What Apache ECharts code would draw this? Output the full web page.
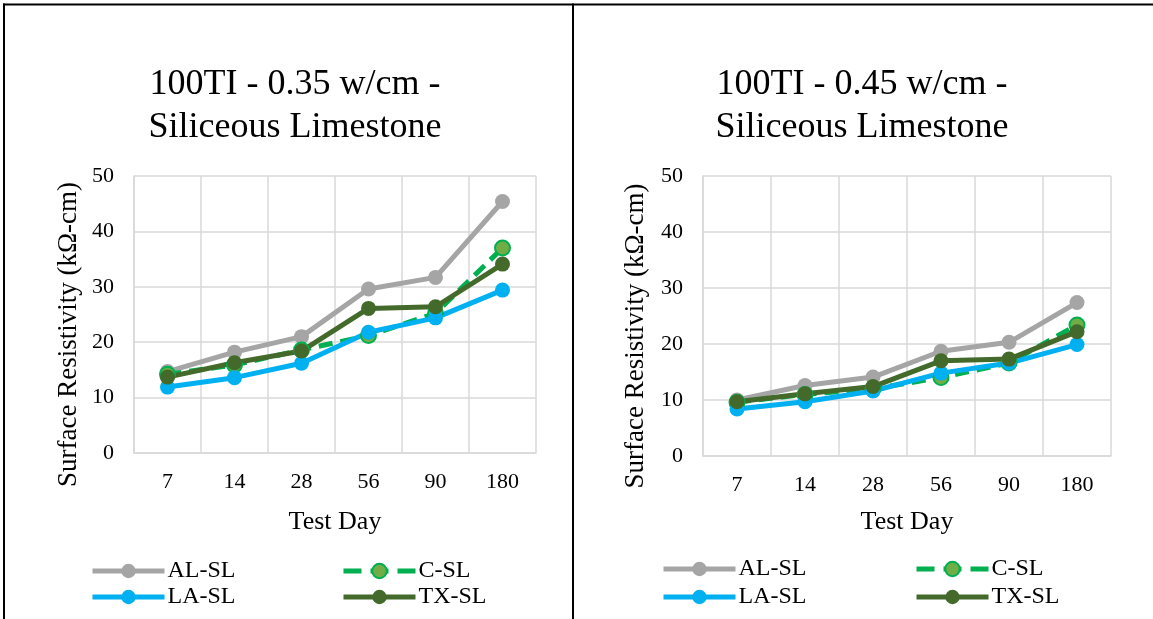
<!DOCTYPE html>
<html>
<head>
<meta charset="utf-8">
<script src="https://cdn.jsdelivr.net/npm/echarts@6/dist/echarts.min.js"></script>
<style>
html,body{margin:0;padding:0;background:#fff;}
#c{width:1153px;height:619px;}
</style>
</head>
<body>
<div id="c"></div>
<script>
var days = ['7', '14', '28', '56', '90', '180'];
var yTicks = [0, 10, 20, 30, 40, 50];
var seriesNames = ['AL-SL', 'C-SL', 'LA-SL', 'TX-SL'];
// 100TI - 0.35 w/cm
var AL35 = [14.7, 18.2, 21.0, 29.6, 31.7, 45.4];
var C35  = [14.2, 15.9, 18.6, 21.2, 25.2, 37.0];
var LA35 = [11.9, 13.6, 16.2, 21.8, 24.4, 29.4];
var TX35 = [13.7, 16.3, 18.4, 26.1, 26.4, 34.1];
// 100TI - 0.45 w/cm
var AL45 = [10.0, 12.6, 14.1, 18.7, 20.3, 27.4];
var C45  = [9.6, 11.0, 12.0, 14.0, 16.6, 23.4];
var LA45 = [8.4, 9.7, 11.6, 14.8, 16.6, 19.9];
var TX45 = [9.7, 11.1, 12.4, 17.0, 17.3, 22.2];
var titles = ['100TI - 0.35 w/cm -\nSiliceous Limestone', '100TI - 0.45 w/cm -\nSiliceous Limestone'];
var xName = 'Test Day';
var yName = 'Surface Resistivity (k\u03A9-cm)';

var FONT = '"Liberation Serif", "Times New Roman", serif';
var GRID = '#D9D9D9';
var styles = {
  'AL-SL': {color: '#A5A5A5', fill: '#A5A5A5', border: '#A5A5A5', type: 'solid', legType: 'solid'},
  'C-SL':  {color: '#00B050', fill: '#70AD47', border: '#00B050', type: [14, 8], legType: [18, 9]},
  'LA-SL': {color: '#00B0F0', fill: '#00B0F0', border: '#00B0F0', type: 'solid', legType: 'solid'},
  'TX-SL': {color: '#436A2B', fill: '#436A2B', border: '#436A2B', type: 'solid', legType: 'solid'}
};
var dataSets = [
  {'AL-SL': AL35, 'C-SL': C35, 'LA-SL': LA35, 'TX-SL': TX35},
  {'AL-SL': AL45, 'C-SL': C45, 'LA-SL': LA45, 'TX-SL': TX45}
];
var layouts = [
  {gl: 134, gw: 402, gt: 176, gh: 277, tx: 290, xGap: 56, yGap: 52, legX: [90, 341], legY: [571, 597]},
  {gl: 703, gw: 408, gt: 176, gh: 280, tx: 857, xGap: 53, yGap: 54, legX: [661, 914], legY: [569, 597]}
];

var option = {
  backgroundColor: '#ffffff',
  animation: false,
  title: [], grid: [], xAxis: [], yAxis: [], series: [], legend: [],
  graphic: [
    {type: 'line', shape: {x1: 3, y1: 4.5, x2: 1153, y2: 4.5}, style: {stroke: '#000', lineWidth: 2}},
    {type: 'line', shape: {x1: 4, y1: 3.5, x2: 4, y2: 619}, style: {stroke: '#000', lineWidth: 2}},
    {type: 'line', shape: {x1: 573, y1: 3.5, x2: 573, y2: 619}, style: {stroke: '#000', lineWidth: 2}}
  ]
};

layouts.forEach(function (L, i) {
  option.title.push({
    text: titles[i], left: L.tx, top: 58, textAlign: 'center',
    textStyle: {fontFamily: FONT, fontSize: 36, fontWeight: 'normal', color: '#000', lineHeight: 43}
  });
  option.grid.push({left: L.gl, top: L.gt, width: L.gw, height: L.gh, containLabel: false});
  option.xAxis.push({
    type: 'category', gridIndex: i, data: days, boundaryGap: true,
    name: xName, nameLocation: 'middle', nameGap: L.xGap,
    nameTextStyle: {fontFamily: FONT, fontSize: 26, color: '#000', verticalAlign: 'top'},
    axisLine: {show: true, lineStyle: {color: GRID, width: 1.5}},
    axisTick: {show: false},
    axisLabel: {fontFamily: FONT, fontSize: 22, color: '#000', margin: 18},
    splitLine: {show: true, lineStyle: {color: GRID, width: 1.5}}
  });
  option.yAxis.push({
    type: 'value', gridIndex: i, min: 0, max: 50, interval: 10,
    name: yName, nameLocation: 'middle', nameGap: L.yGap, nameRotate: 90,
    nameTextStyle: {fontFamily: FONT, fontSize: 27, color: '#000', padding: [0, 40, 0, 0]},
    axisLine: {show: true, lineStyle: {color: GRID, width: 1.5}},
    axisTick: {show: false},
    axisLabel: {fontFamily: FONT, fontSize: 22, color: '#000', margin: 20},
    splitLine: {show: true, lineStyle: {color: GRID, width: 1.5}}
  });
  seriesNames.forEach(function (n) {
    var s = styles[n];
    option.series.push({
      name: n, type: 'line', xAxisIndex: i, yAxisIndex: i,
      data: dataSets[i][n], symbol: 'circle', symbolSize: 15,
      lineStyle: {color: s.color, width: 5, type: s.type},
      itemStyle: {color: s.fill, borderColor: s.border, borderWidth: n === 'C-SL' ? 2 : 0},
      emphasis: {disabled: true}
    });
  });
  seriesNames.forEach(function (n, k) {
    option.legend.push({
      data: [n], left: L.legX[k % 2], top: L.legY[Math.floor(k / 2)] - 12,
      padding: 0, itemWidth: 72, itemHeight: 18, itemGap: 0,
      lineStyle: {width: 5, type: styles[n].legType},
      textStyle: {fontFamily: FONT, fontSize: 24, color: '#000', padding: [0, 0, 0, -2]},
      selectedMode: false
    });
  });
});

var chart = echarts.init(document.getElementById('c'), null, {renderer: 'canvas'});
chart.setOption(option);
</script>
</body>
</html>
